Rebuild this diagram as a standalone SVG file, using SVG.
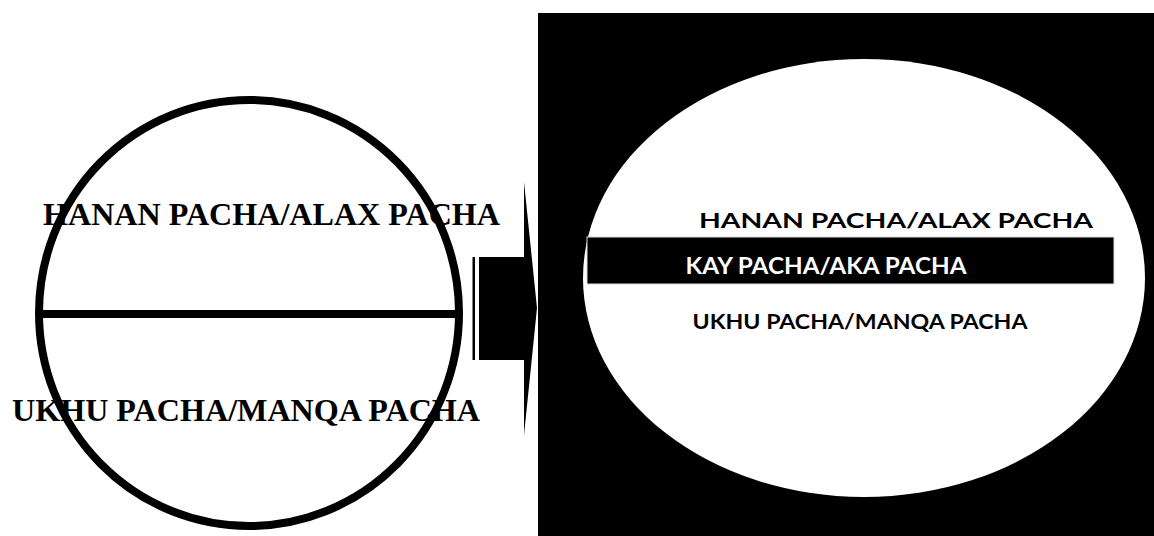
<svg xmlns="http://www.w3.org/2000/svg" width="1154" height="536" viewBox="0 0 1154 536">
<style>
.serif{font-family:"Liberation Serif","Times New Roman",serif;font-weight:bold;font-size:31.5px;fill:#000}
.sans{font-family:Lato,"Open Sans","Liberation Sans",sans-serif;font-weight:bold;fill:#000}
</style>
<rect width="1154" height="536" fill="#fff"/>
<g id="left-circle">
  <ellipse cx="249" cy="313" rx="210" ry="213" fill="none" stroke="#000" stroke-width="8"/>
  <line x1="40" y1="314" x2="462" y2="314" stroke="#000" stroke-width="8"/>
  <text class="serif" x="43" y="225" textLength="457" lengthAdjust="spacingAndGlyphs">HANAN PACHA/ALAX PACHA</text>
  <text class="serif" x="12" y="421" textLength="468" lengthAdjust="spacingAndGlyphs">UKHU PACHA/MANQA PACHA</text>
</g>
<g id="connectors">
  <rect x="472.5" y="257" width="2.5" height="103" fill="#000"/>
  <polygon points="479,257 524,257 524,182 537,308 524,435 524,360 479,360" fill="#000"/>
</g>
<g id="right-panel">
  <rect x="538" y="13" width="616" height="523" fill="#000"/>
  <ellipse cx="864" cy="278" rx="281" ry="219" fill="#fff"/>
  <rect x="587" y="237" width="527" height="47" fill="#000" stroke="#ddd" stroke-width="1"/>
  <text class="sans" x="896" y="228" font-size="21.5" text-anchor="middle" textLength="394" lengthAdjust="spacingAndGlyphs">HANAN PACHA/ALAX PACHA</text>
  <text class="sans" x="826" y="274" font-size="23.5" text-anchor="middle" style="fill:#fff" textLength="281" lengthAdjust="spacingAndGlyphs">KAY PACHA/AKA PACHA</text>
  <text class="sans" x="860" y="329" font-size="21.5" text-anchor="middle" textLength="335" lengthAdjust="spacingAndGlyphs">UKHU PACHA/MANQA PACHA</text>
</g>
</svg>
